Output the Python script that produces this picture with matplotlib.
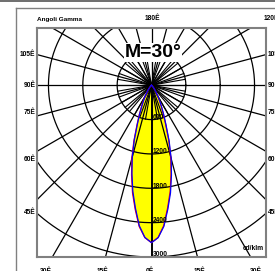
import numpy as np
import matplotlib
matplotlib.use('Agg')
import matplotlib.pyplot as plt
from matplotlib.lines import Line2D

plt.rcParams['font.family'] = ['Liberation Sans', 'DejaVu Sans']

# ---------------------------------------------------------------------------
# Dati fotometrici (cd/klm) letti dal diagramma
# ---------------------------------------------------------------------------
gamma = [0, 2.5, 5, 7.5, 10, 12.5, 15, 17.5, 20, 22.5, 25, 27.5, 30,
         35, 40, 45, 50, 60, 90]
cd_main = [2750, 2660, 2460, 2160, 1880, 1580, 1300, 1000, 720, 540, 400,
           300, 220, 110, 50, 20, 8, 0, 0]
cd_wide = [2750, 2665, 2475, 2185, 1910, 1610, 1330, 1025, 745, 560, 415,
           310, 228, 115, 52, 21, 8, 0, 0]

rings = [600, 1200, 1800, 2400, 3000]
ring_labels = ['600', '1200', '1800', '2400', '3000']

side_labels = ['105Ê', '90Ê', '75Ê', '60Ê', '45Ê']
side_label_y = [540, 0, -470, -1290, -2230]
bottom_labels = ['30Ê', '15Ê', '0Ê', '15Ê', '30Ê']
bottom_label_x = [-1840, -860, -20, 840, 1830]

# ---------------------------------------------------------------------------
fig = plt.figure(figsize=(2.75, 2.71), dpi=100)
ax = fig.add_axes([37 / 275, 14 / 271, 229 / 275, 229 / 271])
ax.set_xlim(-2000, 2000)
ax.set_ylim(-3000, 1000)
ax.set_xticks([])
ax.set_yticks([])
for s in ax.spines.values():
    s.set_color('#808080')
    s.set_linewidth(1.5)


def half_curve(cd, side):
    g = np.radians(gamma)
    return side * np.array(cd) * np.sin(g), -np.array(cd) * np.cos(g)


# curva rossa C0-C180, curva blu C90-C270
rxl, ryl = half_curve(cd_wide, -1)
rxr, ryr = half_curve(cd_main, 1)
bxl, byl = half_curve(cd_main, -1)
bxr, byr = half_curve(cd_wide, 1)
red_x = np.concatenate([rxl[::-1], rxr])
red_y = np.concatenate([ryl[::-1], ryr])
blue_x = np.concatenate([bxl[::-1], bxr])
blue_y = np.concatenate([byl[::-1], byr])

fx = np.concatenate([rxl[::-1], bxr])
fy = np.concatenate([ryl[::-1], byr])
ax.fill(fx, fy, color='#ffff00', zorder=1, lw=0)

# griglia polare
t = np.linspace(0, 2 * np.pi, 361)
for r in rings:
    ax.plot(r * np.cos(t), r * np.sin(t), color='black', lw=0.9, zorder=2)
for a in range(0, 360, 15):
    ar = np.radians(a)
    ax.plot([0, 6000 * np.sin(ar)], [0, -6000 * np.cos(ar)],
            color='black', lw=0.9 if a else 1.4, zorder=2)
for a in range(0, 360, 10):
    ar = np.radians(a)
    ax.plot([0, rings[0] * np.sin(ar)], [0, -rings[0] * np.cos(ar)],
            color='black', lw=0.8, zorder=2)

ax.plot(red_x, red_y, color='#ff0000', lw=0.9, zorder=3)
ax.plot(blue_x, blue_y, color='#0000ff', lw=0.9, zorder=3)

for r, lab in zip(rings, ring_labels):
    ax.text(20, -r + 40, lab, fontsize=4.8, fontweight='bold',
            ha='left', va='center', zorder=4)
ax.text(1960, -2850, 'cd/klm', fontsize=4.8, fontweight='bold',
        ha='right', va='center', zorder=4)

ax.text(30, 490, 'M=30°', fontsize=14, fontweight='bold',
        ha='center', va='baseline', zorder=5,
        bbox=dict(facecolor='white', edgecolor='none', pad=0.5))

# etichette esterne
for lab, y in zip(side_labels, side_label_y):
    ax.text(-2030, y, lab, fontsize=4.8, fontweight='bold',
            ha='right', va='center', clip_on=False)
    ax.text(2030, y, lab, fontsize=4.8, fontweight='bold',
            ha='left', va='center', clip_on=False)
for lab, x in zip(bottom_labels, bottom_label_x):
    ax.text(x, -3190, lab, fontsize=4.8, fontweight='bold',
            ha='center', va='top', clip_on=False)
ax.text(-2000, 1100, 'Angoli Gamma', fontsize=4.6, fontweight='bold',
        ha='left', va='bottom', clip_on=False)
ax.text(10, 1100, '180Ê', fontsize=4.8, fontweight='bold',
        ha='center', va='bottom', clip_on=False)
ax.text(1950, 1100, '120Ê', fontsize=4.8, fontweight='bold',
        ha='left', va='bottom', clip_on=False)

# cornici
fig.add_artist(Line2D([0, 1], [1 - 0.8 / 271] * 2, color='#555555', lw=1.2))
fig.add_artist(Line2D([16 / 275, 16 / 275], [0, 263 / 271], color='#808080', lw=1))
fig.add_artist(Line2D([16 / 275, 1], [263 / 271] * 2, color='#808080', lw=1))

fig.savefig('out.png', dpi=100)
